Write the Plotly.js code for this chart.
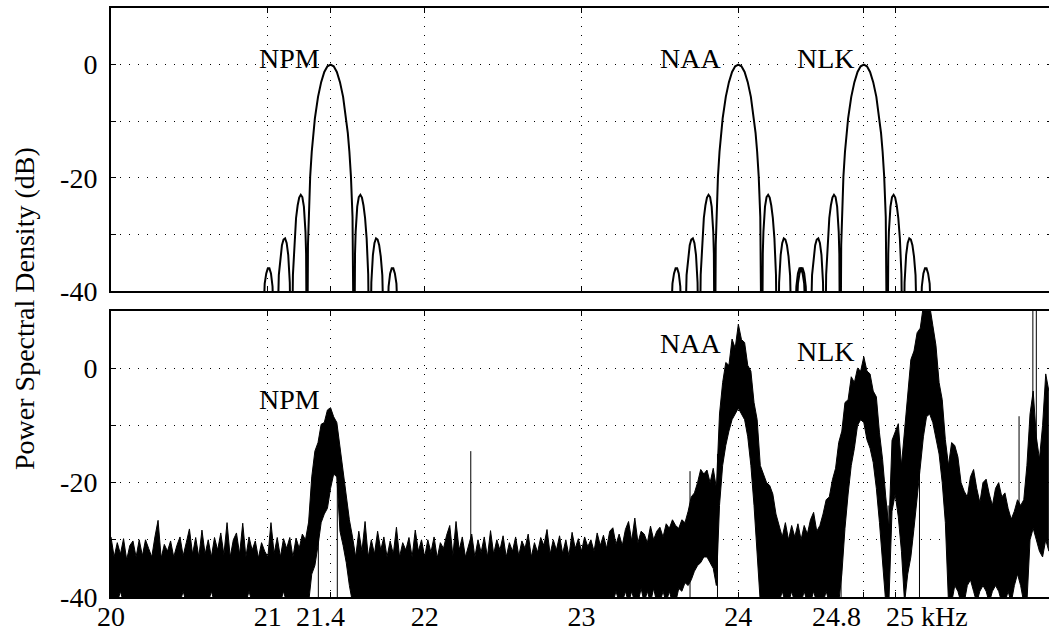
<!DOCTYPE html>
<html>
<head>
<meta charset="utf-8">
<script src="https://cdn.plot.ly/plotly-3.0.1.min.js"></script>
<style>
html,body{margin:0;padding:0;overflow:hidden;background:#fff;}
#chart{width:1052px;height:632px;}
</style>
</head>
<body>
<div id="chart"></div>
<script>
// ---------- DATA ----------
// Station carrier frequencies (kHz) and labels
const stationNames = ['NPM', 'NAA', 'NLK'];
const stationFreq = [21.4, 24.0, 24.8];

// Theoretical MSK-like spectrum shape (offset in kHz from carrier, dB)
const lobeOffset = [-0.45,-0.42,-0.41,-0.40,-0.39,-0.38,-0.37,-0.35,-0.33,-0.32,-0.31,-0.30,-0.29,-0.28,-0.27,-0.26,-0.25,-0.24,-0.23,-0.22,-0.21,-0.20,-0.19,-0.18,-0.17,-0.16,-0.156,-0.15,-0.144,-0.14,-0.13,-0.12,-0.11,-0.10,-0.08,-0.06,-0.04,-0.02,0,
  0.02,0.04,0.06,0.08,0.10,0.11,0.12,0.13,0.14,0.144,0.15,0.156,0.16,0.17,0.18,0.19,0.20,0.21,0.22,0.23,0.24,0.25,0.26,0.27,0.28,0.29,0.30,0.31,0.32,0.33,0.35,0.37,0.38,0.39,0.40,0.41,0.42,0.45];
const lobeDb = [-60,-38.7,-36.9,-36.0,-36.0,-36.9,-39.2,-60,-37.2,-33.9,-31.9,-30.9,-30.7,-31.5,-33.6,-38.5,-60,-37.1,-30.7,-27.1,-24.9,-23.5,-23.0,-23.4,-25.1,-29.5,-33.4,-60,-31.8,-26.9,-19.8,-15.4,-12.1,-9.5,-5.7,-3.1,-1.3,-0.3,0,
  -0.3,-1.3,-3.1,-5.7,-9.5,-12.1,-15.4,-19.8,-26.9,-31.8,-60,-33.4,-29.5,-25.1,-23.4,-23.0,-23.5,-24.9,-27.1,-30.7,-37.1,-60,-38.5,-33.6,-31.5,-30.7,-30.9,-31.9,-33.9,-37.2,-60,-39.2,-36.9,-36.0,-36.0,-36.9,-38.7,-60];

// Measured spectrum (bottom panel): frequency grid (kHz), upper and lower envelope of the trace (dB)
const freq = [
20.00,20.02,20.04,20.06,20.08,20.10,20.12,20.14,20.16,20.18,
20.20,20.22,20.24,20.26,20.28,20.30,20.32,20.34,20.36,20.38,
20.40,20.42,20.44,20.46,20.48,20.50,20.52,20.54,20.56,20.58,
20.60,20.62,20.64,20.66,20.68,20.70,20.72,20.74,20.76,20.78,
20.80,20.82,20.84,20.86,20.88,20.90,20.92,20.94,20.96,20.98,
21.00,21.02,21.04,21.06,21.08,21.10,21.12,21.14,21.16,21.18,
21.20,21.22,21.24,21.26,21.28,21.30,21.32,21.34,21.36,21.38,
21.40,21.42,21.44,21.46,21.48,21.50,21.52,21.54,21.56,21.58,
21.60,21.62,21.64,21.66,21.68,21.70,21.72,21.74,21.76,21.78,
21.80,21.82,21.84,21.86,21.88,21.90,21.92,21.94,21.96,21.98,
22.00,22.02,22.04,22.06,22.08,22.10,22.12,22.14,22.16,22.18,
22.20,22.22,22.24,22.26,22.28,22.30,22.32,22.34,22.36,22.38,
22.40,22.42,22.44,22.46,22.48,22.50,22.52,22.54,22.56,22.58,
22.60,22.62,22.64,22.66,22.68,22.70,22.72,22.74,22.76,22.78,
22.80,22.82,22.84,22.86,22.88,22.90,22.92,22.94,22.96,22.98,
23.00,23.02,23.04,23.06,23.08,23.10,23.12,23.14,23.16,23.18,
23.20,23.22,23.24,23.26,23.28,23.30,23.32,23.34,23.36,23.38,
23.40,23.42,23.44,23.46,23.48,23.50,23.52,23.54,23.56,23.58,
23.60,23.62,23.64,23.66,23.68,23.70,23.72,23.74,23.76,23.78,
23.80,23.82,23.84,23.86,23.88,23.90,23.92,23.94,23.96,23.98,
24.00,24.02,24.04,24.06,24.08,24.10,24.12,24.14,24.16,24.18,
24.20,24.22,24.24,24.26,24.28,24.30,24.32,24.34,24.36,24.38,
24.40,24.42,24.44,24.46,24.48,24.50,24.52,24.54,24.56,24.58,
24.60,24.62,24.64,24.66,24.68,24.70,24.72,24.74,24.76,24.78,
24.80,24.82,24.84,24.86,24.88,24.90,24.92,24.94,24.96,24.98,
25.00,25.02,25.04,25.06,25.08,25.10,25.12,25.14,25.16,25.18,
25.20,25.22,25.24,25.26,25.28,25.30,25.32,25.34,25.36,25.38,
25.40,25.42,25.44,25.46,25.48,25.50,25.52,25.54,25.56,25.58,
25.60,25.62,25.64,25.66,25.68,25.70,25.72,25.74,25.76,25.78,
25.80,25.82,25.84,25.86,25.88,25.90,25.92,25.94,25.96,25.98];
const psdUpper = [
-29.5,-33,-30.5,-32.5,-29.8,-33.5,-31,-30.2,-33,-30,
-32.8,-30,-31.5,-33,-29.5,-26.6,-33.2,-30.8,-32,-30.2,
-33,-31,-29.5,-32.8,-30.5,-28.1,-32.5,-29.6,-33,-28.3,
-32.5,-30,-33,-29.6,-31.8,-28.8,-32.6,-27,-33,-30,
-28.8,-32.5,-27.1,-33,-29.5,-31.8,-30.2,-33.2,-30.5,-32,
-33,-27,-32.4,-29.6,-33,-29.8,-31.5,-29.6,-33,-29.7,
-31.5,-29,-30,-26.9,-19,-14.5,-13,-9.8,-9.5,-7.3,
-6.9,-8.5,-9.5,-13.8,-17.5,-22,-26.5,-29.5,-33,-28.5,
-32,-26.8,-33,-30,-32.5,-28.5,-31.8,-29.5,-33,-30.2,
-32.5,-27.8,-33,-30.5,-31.8,-29.6,-33,-28.3,-32,-30,
-33,-30,-32.2,-29.5,-33.2,-30.5,-31.5,-29.2,-27.5,-32.8,
-26.8,-31.8,-29.5,-33,-30.8,-29,-33,-30,-32.2,-29.5,
-33,-28.4,-32.5,-30,-31.8,-29.3,-33,-30.5,-32,-29.5,
-32.8,-30.2,-31.5,-29,-33,-30.5,-32.2,-29.6,-31,-28.2,
-32.5,-30,-31.8,-29.3,-32.4,-30,-32.8,-28.7,-31.5,-29.8,
-32,-29.5,-31.2,-30,-32,-28.8,-31,-29.2,-31.5,-28.5,
-27.9,-30.8,-29,-31,-28.2,-26.8,-30.2,-26.2,-30.5,-28.5,
-29,-30.5,-27.6,-30,-28.5,-27.8,-29.5,-27.2,-28,-26.5,
-27.5,-28,-26.5,-27,-25,-22.5,-21.8,-20,-17.7,-18.5,
-17.8,-20,-17.5,-21,-8,-2.5,1,0.5,5.1,3.5,
7.7,5,4.5,0.5,-0.5,-6,-9,-17,-18.5,-20,
-20.5,-22,-25.5,-27.5,-29.5,-27,-30,-27.5,-29.5,-27.2,
-30,-27.5,-29,-26.5,-25.2,-28.5,-27.5,-25.5,-23,-22.5,
-19.5,-17.5,-13,-11,-6,-5.5,-1.5,-2.5,0,-0.5,
2,-0.5,-1,-4,-5,-11.3,-16,-22.5,-28,-12.6,
-11,-9.7,-17,-11,-4,1.5,3,6.2,7,11,
11,11,7.5,4,-2.5,-5.5,-12.5,-17,-13,-13.5,
-15.5,-20,-21.5,-22.5,-19,-17.7,-21,-23.5,-20,-19.4,
-22,-24,-21,-20,-22.5,-21.8,-24.5,-26.4,-25,-23,
-24,-23,-17,-8,-4,-12,-15.9,-10,-1,-4];
const psdLower = [
-41,-41,-41,-39,-41,-41,-41,-41,-41,-41,
-41,-41,-41,-41,-41,-41,-41,-41,-41,-41,
-41,-41,-41,-39,-41,-41,-41,-41,-41,-41,
-41,-41,-39,-41,-41,-41,-41,-41,-41,-41,
-41,-41,-41,-41,-39,-41,-41,-41,-41,-41,
-41,-41,-41,-41,-41,-39,-41,-41,-41,-41,
-41,-41,-41,-41,-36,-34.5,-31,-27,-25.5,-24.5,
-21,-18.5,-19,-28.5,-31,-34,-38,-41,-41,-41,
-41,-41,-41,-41,-41,-41,-41,-41,-41,-41,
-41,-41,-41,-41,-41,-41,-41,-41,-41,-41,
-41,-41,-41,-41,-41,-41,-41,-41,-41,-41,
-41,-41,-41,-41,-41,-41,-41,-41,-41,-41,
-41,-41,-41,-41,-41,-41,-41,-41,-41,-41,
-41,-41,-41,-41,-41,-41,-41,-41,-41,-41,
-41,-41,-41,-41,-41,-41,-41,-41,-41,-41,
-41,-41,-41,-41,-41,-41,-41,-41,-41,-41,
-41,-39,-41,-41,-39,-41,-39,-41,-41,-38.5,
-41,-39,-41,-38.5,-41,-41,-39,-41,-39,-41,
-41,-38.5,-39,-37.5,-38,-37,-35.5,-34.5,-34,-33,
-33,-34,-35,-38,-24,-17,-13.5,-11,-9,-8,
-7,-8,-9,-12,-17,-24,-33,-41,-41,-41,
-41,-41,-41,-41,-39,-41,-41,-39,-41,-41,
-41,-39,-41,-41,-39,-41,-41,-41,-39,-41,
-41,-41,-41,-36,-28,-22,-17,-14,-10,-9,
-9.5,-12.5,-14,-16.5,-21,-27,-35,-41,-41,-25,
-22,-26,-32,-41,-36,-33,-28,-23,-17,-12,
-8.5,-8,-9.5,-12,-15,-20,-27,-41,-41,-38,
-39,-41,-41,-38,-37,-39,-41,-39,-38,-39,
-41,-39,-38,-39,-41,-41,-39,-41,-38,-36,
-38,-41,-41,-30,-28,-30,-32,-33,-30,-32];

// Isolated narrow spikes / deep nulls in the measured trace (kHz, dB low, dB high)
const spikeFreq = [21.322, 21.443, 22.294, 23.692, 23.867, 24.655, 24.955, 25.155, 25.79, 25.878, 25.90];
const spikeLow  = [-41, -41, -41, -41, -41, -41, -41, -41, -30, -25, -25];
const spikeHigh = [-25, -18, -14.5, -18, -15, -14, -24, -18, -8.4, 11, 11];

// Axis ticks
const xTickVals = [20, 21, 21.4, 22, 23, 24, 24.8, 25];
const xTickText = ['20', '21', '', '22', '23', '24', '', ''];
const yTickVals = [-40, -30, -20, -10, 0, 10];
const yTickText = ['-40', '', '-20', '', '0', ''];

// Label placement for station names (dB level in each panel)
const topLabelDb = [1.0, 1.0, 1.0];
const bottomLabelDb = [-5.5, 4.4, 2.9];

// ---------- CHART ----------
const FONT = 'Liberation Serif, Times New Roman, serif';
const traces = [];

traces.push({x: freq, y: psdLower, xaxis: 'x', yaxis: 'y', mode: 'lines',
  line: {color: '#000', width: 1}, hoverinfo: 'skip', showlegend: false});
traces.push({x: freq, y: psdUpper, xaxis: 'x', yaxis: 'y', mode: 'lines', fill: 'tonexty',
  fillcolor: '#000', line: {color: '#000', width: 1}, hoverinfo: 'skip', showlegend: false});

const sx = [], sy = [];
spikeFreq.forEach((f, i) => { sx.push(f, f, null); sy.push(spikeLow[i], spikeHigh[i], null); });
traces.push({x: sx, y: sy, xaxis: 'x', yaxis: 'y', mode: 'lines',
  line: {color: '#000', width: 1}, hoverinfo: 'skip', showlegend: false});

stationFreq.forEach((c) => {
  traces.push({x: lobeOffset.map(o => c + o), y: lobeDb, xaxis: 'x2', yaxis: 'y2', mode: 'lines',
    line: {color: '#000', width: 2}, hoverinfo: 'skip', showlegend: false});
});

const axCommon = {
  showline: true, linecolor: '#000', linewidth: 2, mirror: 'ticks',
  ticks: 'inside', ticklen: 5, tickwidth: 1, tickcolor: '#000',
  showgrid: true, gridcolor: '#000', gridwidth: 1, griddash: '1px,8px',
  zeroline: false, tickfont: {family: FONT, size: 28, color: '#000'}
};

const annotations = [];
const nameShift = [-9, -15, -7];
stationNames.forEach((n, i) => {
  annotations.push({text: n, xref: 'x2', yref: 'y2', x: stationFreq[i], y: topLabelDb[i],
    xanchor: 'right', yanchor: 'middle', xshift: nameShift[i], showarrow: false,
    font: {family: FONT, size: 28, color: '#000'}});
  annotations.push({text: n, xref: 'x', yref: 'y', x: stationFreq[i], y: bottomLabelDb[i],
    xanchor: 'right', yanchor: 'middle', xshift: nameShift[i], showarrow: false,
    font: {family: FONT, size: 28, color: '#000'}});
});
// shifted x tick labels
annotations.push({text: '21.4', xref: 'x', yref: 'paper', x: 21.4, y: 0, xanchor: 'center', yanchor: 'top',
  xshift: -10, yshift: -2, showarrow: false, font: {family: FONT, size: 28, color: '#000'}});
annotations.push({text: '24.8', xref: 'x', yref: 'paper', x: 24.8, y: 0, xanchor: 'center', yanchor: 'top',
  xshift: -27, yshift: -2, showarrow: false, font: {family: FONT, size: 28, color: '#000'}});
annotations.push({text: '25 kHz', xref: 'x', yref: 'paper', x: 25, y: 0, xanchor: 'left', yanchor: 'top',
  xshift: -11, yshift: -2, showarrow: false, font: {family: FONT, size: 28, color: '#000'}});
// y title
annotations.push({text: 'Power Spectral Density (dB)', xref: 'paper', yref: 'paper',
  x: -0.0914, y: 0.4907, xanchor: 'center', yanchor: 'middle', textangle: -90, showarrow: false,
  font: {family: FONT, size: 28, color: '#000'}});

const layout = {
  width: 1052, height: 632,
  margin: {l: 111, r: 0, t: 8, b: 35},
  paper_bgcolor: '#fff', plot_bgcolor: '#fff',
  showlegend: false,
  font: {family: FONT, size: 28, color: '#000'},
  xaxis: Object.assign({}, axCommon, {anchor: 'y', range: [20, 26], tickmode: 'array',
    tickvals: xTickVals, ticktext: xTickText, tickangle: 0, ticklabelstandoff: -7}),
  xaxis2: Object.assign({}, axCommon, {anchor: 'y2', range: [20, 26], tickmode: 'array',
    tickvals: xTickVals, showticklabels: false}),
  yaxis: Object.assign({}, axCommon, {anchor: 'x', domain: [0, 0.48557], range: [-40, 10],
    tickmode: 'array', tickvals: yTickVals, ticktext: yTickText, ticklabelstandoff: 6}),
  yaxis2: Object.assign({}, axCommon, {anchor: 'x2', domain: [0.51953, 1], range: [-40, 10],
    tickmode: 'array', tickvals: yTickVals, ticktext: yTickText, ticklabelstandoff: 6}),
  annotations: annotations
};

Plotly.newPlot('chart', traces, layout, {staticPlot: true, displayModeBar: false});
</script>
</body>
</html>
